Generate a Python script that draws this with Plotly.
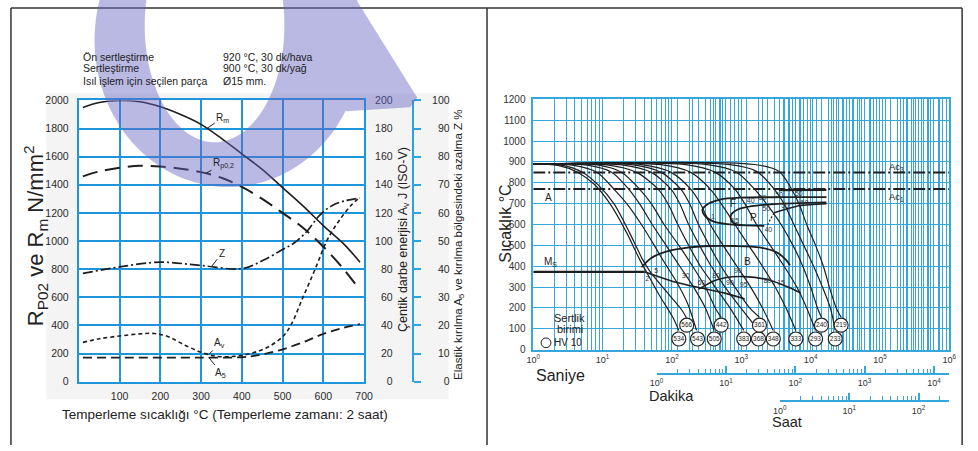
import numpy as np
import plotly.graph_objects as go

W, H = 978, 451


def xp(px):
    return px / W


def yp(py):
    return 1 - py / H


FONT = "Liberation Sans, Arial, sans-serif"
GRID_L = "#1f96dc"
GRID_R = "#36a7dd"
INK = "#1e1e1e"

# ---------------- Left chart data (temper temperature, °C) ----------------
temp_rm = [10, 50, 100, 150, 200, 250, 300, 350, 400, 450, 500, 550, 600, 650, 690]
rm = [1950, 1985, 2000, 1990, 1955, 1900, 1830, 1730, 1620, 1510, 1380, 1250, 1110, 980, 850]

temp_rp = [10, 50, 100, 150, 200, 250, 300, 350, 400, 450, 500, 550, 600, 650, 690]
rp02 = [1460, 1495, 1522, 1535, 1530, 1515, 1490, 1450, 1385, 1300, 1200, 1095, 960, 800, 650]

temp_z = [10, 100, 200, 300, 400, 450, 500, 530, 560, 590, 620, 650, 690]
z_pct = [38.5, 40.8, 42.5, 41.3, 40.2, 43, 47, 49.5, 53.5, 59, 62.5, 64.2, 65.3]

temp_av = [10, 50, 100, 150, 185, 220, 260, 300, 340, 380, 420, 460, 500, 520, 550, 580, 610, 640, 670, 690]
av_j = [28, 30.5, 32.5, 34, 34.3, 32, 26, 21, 18, 18, 20, 24, 32, 40, 60, 80, 101, 115, 126, 131]

temp_a5 = [10, 100, 200, 300, 400, 430, 460, 500, 550, 600, 650, 690]
a5_pct = [8.6, 8.6, 8.6, 8.6, 8.7, 9.2, 10, 11.5, 14, 17, 19.2, 20.5]

# ---------------- Right chart data (CCT diagram) ----------------
# cooling curves: log10(time in s) and temperature °C
cool_logt = [
    [0, 0.355, 0.638, 0.879, 1.106, 1.348, 1.532, 1.631, 1.816, 2.014, 2.099],
    [0, 0.426, 0.709, 0.936, 1.163, 1.390, 1.574, 1.688, 1.915, 2.142, 2.213],
    [0, 0.567, 0.922, 1.163, 1.348, 1.560, 1.745, 1.887, 2.057, 2.227, 2.355],
    [0, 0.780, 1.135, 1.376, 1.532, 1.716, 1.915, 2.113, 2.312, 2.482, 2.610],
    [0, 0.922, 1.277, 1.532, 1.702, 1.887, 2.099, 2.298, 2.482, 2.624, 2.709],
    [0, 1.064, 1.489, 1.801, 1.943, 2.085, 2.241, 2.411, 2.624, 2.837, 3.035],
    [0, 1.277, 1.702, 1.986, 2.113, 2.241, 2.397, 2.567, 2.766, 2.993, 3.248],
    [0, 1.418, 1.844, 2.128, 2.255, 2.383, 2.539, 2.709, 2.908, 3.121, 3.262],
    [0, 1.560, 1.986, 2.270, 2.411, 2.553, 2.738, 2.936, 3.135, 3.305, 3.461],
    [0, 1.844, 2.270, 2.553, 2.709, 2.908, 3.106, 3.305, 3.489, 3.645, 3.787],
    [0, 2.199, 2.624, 2.908, 3.050, 3.220, 3.418, 3.617, 3.801, 3.943, 4.071],
    [0, 2.511, 2.936, 3.191, 3.362, 3.574, 3.745, 3.887, 4.000, 4.099, 4.156],
    [0, 2.837, 3.220, 3.475, 3.617, 3.759, 3.901, 4.043, 4.170, 4.284, 4.355],
    [0, 3.191, 3.546, 3.716, 3.844, 3.943, 4.071, 4.184, 4.270, 4.369, 4.440],
]
cool_temp = [
    [890, 884, 851, 793, 700, 560, 434, 373, 262, 154, 92],
    [890, 884, 851, 790, 700, 560, 434, 373, 280, 190, 150],
    [890, 885, 850, 770, 700, 600, 500, 420, 330, 220, 92],
    [890, 885, 850, 770, 700, 600, 500, 400, 300, 200, 92],
    [890, 886, 850, 770, 700, 600, 500, 400, 300, 200, 155],
    [890, 886, 850, 770, 700, 600, 500, 400, 300, 200, 92],
    [890, 886, 850, 770, 700, 600, 500, 400, 300, 200, 92],
    [890, 887, 850, 770, 700, 600, 500, 400, 300, 200, 155],
    [890, 887, 850, 770, 700, 600, 500, 400, 300, 200, 92],
    [890, 887, 850, 770, 700, 600, 500, 400, 300, 200, 92],
    [890, 887, 850, 770, 700, 600, 500, 400, 300, 200, 92],
    [890, 887, 850, 770, 700, 600, 500, 400, 300, 200, 155],
    [890, 887, 855, 770, 700, 600, 500, 400, 300, 200, 92],
    [890, 888, 854, 775, 690, 600, 500, 400, 300, 200, 155],
]

# hardness circles (HV 10)
hv_low = [534, 543, 505, 383, 368, 348, 333, 293, 233]
hv_low_logt = [2.099, 2.369, 2.610, 3.035, 3.248, 3.461, 3.787, 4.071, 4.355]
hv_low_temp = 51
hv_high = [566, 442, 361, 240, 219]
hv_high_logt = [2.213, 2.709, 3.262, 4.156, 4.440]
hv_high_temp = 117

# transformation lines
ac3_temp = 850
ac1_temp = 770
ms_logt = [0, 1.603]
ms_temp = [373, 373]
bs_logt = [1.560, 1.702, 1.915, 2.199, 2.553, 2.908, 3.262, 3.518, 3.645, 3.702]
bs_temp = [395, 440, 470, 488, 497, 497, 490, 465, 430, 405]
bl_logt = [1.603, 2.014, 2.440, 2.766, 3.050]
bl_temp = [373, 327, 294, 271, 243]
bf_logt = [2.383, 2.482, 2.582, 2.766, 3.050, 3.376, 3.716, 3.858]
bf_temp = [290, 308, 327, 345, 350, 336, 294, 271]
fs_logt = [4.227, 3.617, 2.979, 2.695, 2.525, 2.440, 2.468, 2.596, 2.908, 3.333]
fs_temp = [731, 731, 729, 720, 700, 672, 645, 615, 598, 594]
ps_logt = [4.227, 3.475, 3.149, 2.950, 2.851, 2.865, 3.021]
ps_temp = [706, 698, 688, 672, 645, 612, 596]
pf_logt = [4.227, 3.830, 3.475]
pf_temp = [700, 690, 656]
pdot_logt = [3.475, 3.420, 3.376]
pdot_temp = [656, 625, 596]
a1_logt = [3.543, 4.227]
a1_temp = [765, 766]

small_txt = ["2", "5", "30", "60", "80", "1", "15", "40", "50", "50", "50", "50", "50", "50",
             "40", "90", "95", "90", "80", "15"]
small_logt = [1.645, 1.773, 2.199, 2.426, 2.638, 2.590, 2.908, 3.135, 3.305, 3.546, 3.830,
              3.362, 3.631, 3.915, 3.390, 2.950, 3.035, 2.837, 3.376, 3.574]
small_temp = [336, 374, 350, 317, 350, 635, 616, 714, 728, 738, 747, 672, 686, 700, 574,
              374, 308, 317, 327, 317]

fig = go.Figure()

# ---------------- left traces ----------------
fig.add_trace(go.Scatter(x=temp_rm, y=rm, mode="lines", xaxis="x", yaxis="y",
                         line=dict(color=INK, width=1.6, shape="spline"), hoverinfo="skip"))
fig.add_trace(go.Scatter(x=temp_rp, y=rp02, mode="lines", xaxis="x", yaxis="y",
                         line=dict(color=INK, width=2, dash="15px,8px", shape="spline"), hoverinfo="skip"))
fig.add_trace(go.Scatter(x=temp_z, y=z_pct, mode="lines", xaxis="x", yaxis="y3",
                         line=dict(color=INK, width=1.7, dash="10px,3px,2px,3px", shape="spline"), hoverinfo="skip"))
fig.add_trace(go.Scatter(x=temp_av, y=av_j, mode="lines", xaxis="x", yaxis="y2",
                         line=dict(color=INK, width=1.6, dash="4px,3px", shape="spline"), hoverinfo="skip"))
fig.add_trace(go.Scatter(x=temp_a5, y=a5_pct, mode="lines", xaxis="x", yaxis="y3",
                         line=dict(color=INK, width=1.8, dash="9px,5px", shape="spline"), hoverinfo="skip"))
# invisible anchors so that label-only / free axes get drawn
fig.add_trace(go.Scatter(x=[350], y=[50], mode="markers", xaxis="x", yaxis="y5",
                         marker=dict(opacity=0), hoverinfo="skip"))
fig.add_trace(go.Scatter(x=[10], y=[0.5], mode="markers", xaxis="x3", yaxis="y6",
                         marker=dict(opacity=0), hoverinfo="skip"))
fig.add_trace(go.Scatter(x=[10], y=[0.5], mode="markers", xaxis="x4", yaxis="y6",
                         marker=dict(opacity=0), hoverinfo="skip"))

# ---------------- right traces ----------------
for lt, tt in zip(cool_logt, cool_temp):
    fig.add_trace(go.Scatter(x=[10 ** v for v in lt], y=tt, mode="lines", xaxis="x2", yaxis="y4",
                             line=dict(color=INK, width=1.2, shape="spline", smoothing=0.8), hoverinfo="skip"))

for lt, tt, w, d in [
    (ms_logt, ms_temp, 2.4, "solid"),
    (bs_logt, bs_temp, 1.8, "solid"),
    (bl_logt, bl_temp, 1.6, "solid"),
    (bf_logt, bf_temp, 1.6, "solid"),
    (fs_logt, fs_temp, 1.8, "solid"),
    (ps_logt, ps_temp, 1.8, "solid"),
    (pf_logt, pf_temp, 1.6, "solid"),
    (pdot_logt, pdot_temp, 1.2, "2px,2px"),
    (a1_logt, a1_temp, 2.2, "solid"),
]:
    fig.add_trace(go.Scatter(x=[10 ** v for v in lt], y=tt, mode="lines", xaxis="x2", yaxis="y4",
                             line=dict(color=INK, width=w, dash=d, shape="spline", smoothing=0.8),
                             hoverinfo="skip"))

for tval in (ac3_temp, ac1_temp):
    fig.add_trace(go.Scatter(x=[1, 1e6], y=[tval, tval], mode="lines", xaxis="x2", yaxis="y4",
                             line=dict(color=INK, width=2, dash="12px,3px,2px,3px"), hoverinfo="skip"))

for vals, lts, tv in [(hv_low, hv_low_logt, hv_low_temp), (hv_high, hv_high_logt, hv_high_temp)]:
    fig.add_trace(go.Scatter(x=[10 ** v for v in lts], y=[tv] * len(vals), mode="markers+text",
                             xaxis="x2", yaxis="y4", text=[str(v) for v in vals],
                             textposition="middle center",
                             textfont=dict(family=FONT, size=6.5, color="#222"),
                             marker=dict(symbol="circle", size=14, color="white",
                                         line=dict(color="#222", width=1.2)),
                             hoverinfo="skip"))

fig.add_trace(go.Scatter(x=[10 ** v for v in small_logt], y=small_temp, mode="text",
                         xaxis="x2", yaxis="y4", text=small_txt,
                         textfont=dict(family=FONT, size=7, color="#333"), hoverinfo="skip"))

# ---------------- axes ----------------
tickfont = dict(family=FONT, size=10.5, color="#2a2a2a")
lx0, lx1, ly0, ly1 = 73, 363, 97, 386
rx0, rx1, ry0, ry1 = 535, 958, 96, 353

sec_minor = sorted(set(
    [k * 10 ** m for m in range(0, 6) for k in range(2, 10)]
    + [60 * k * 10 ** m for m in range(0, 5) for k in range(1, 10) if 60 * k * 10 ** m <= 1e6]
    + [3600 * k * 10 ** m for m in range(0, 3) for k in range(1, 10) if 3600 * k * 10 ** m <= 1e6]
))
min_minor = [k * 10 ** m for m in range(0, 5) for k in range(2, 10) if k * 10 ** m <= 1e6 / 60]
hr_minor = [k * 10 ** m for m in range(0, 3) for k in range(2, 10) if k * 10 ** m <= 1e6 / 3600]


def pw(n):
    return f"10<sup>{n}</sup>"


fig.update_layout(
    width=W, height=H, margin=dict(l=0, r=0, t=0, b=0),
    paper_bgcolor="white", plot_bgcolor="rgba(0,0,0,0)", showlegend=False,
    font=dict(family=FONT, color="#222"),
    xaxis=dict(domain=[xp(lx0), xp(lx1)], range=[0, 700], anchor="y",
               tickvals=list(range(100, 701, 100)), showgrid=True, gridcolor=GRID_L, gridwidth=2,
               showline=True, mirror=True, linecolor=GRID_L, linewidth=2, zeroline=False,
               ticks="", tickfont=tickfont, ticklabelstandoff=4),
    yaxis=dict(domain=[yp(ly1), yp(ly0)], range=[0, 2000], dtick=200, anchor="x",
               showgrid=True, gridcolor=GRID_L, gridwidth=2, showline=True, mirror=True,
               linecolor=GRID_L, linewidth=2, zeroline=False, ticks="", tickfont=tickfont,
               ticklabelstandoff=6),
    yaxis2=dict(overlaying="y", anchor="free", position=xp(392), side="left", range=[0, 200],
                dtick=20, showgrid=False, showline=False, zeroline=False, ticks="",
                tickfont=tickfont, ticklabelstandoff=0),
    yaxis3=dict(overlaying="y", anchor="free", position=xp(413), side="right", range=[0, 100],
                dtick=10, showgrid=False, showline=True, linecolor="#2aa3de", linewidth=2,
                zeroline=False, ticks="outside", ticklen=7, tickwidth=2, tickcolor="#2aa3de",
                showticklabels=False),
    yaxis5=dict(overlaying="y", anchor="free", position=xp(450), side="left", range=[0, 100],
                dtick=10, showgrid=False, showline=False, zeroline=False, ticks="",
                tickfont=tickfont, ticklabelstandoff=0),
    yaxis6=dict(domain=[0, 0.05], range=[0, 1], visible=False, anchor="free", position=0),
    xaxis2=dict(domain=[xp(rx0), xp(rx1)], type="log", range=[0, 6], anchor="y4",
                tickvals=[10 ** n for n in range(7)], ticktext=[pw(n) for n in range(7)],
                showgrid=True, gridcolor=GRID_R, gridwidth=1.2,
                minor=dict(tickvals=sec_minor, showgrid=True, gridcolor=GRID_R, gridwidth=1.2, ticks=""),
                showline=True, mirror=True, linecolor=GRID_R, linewidth=1.5, zeroline=False,
                ticks="", tickfont=dict(family=FONT, size=9, color="#333"), ticklabelstandoff=1),
    yaxis4=dict(domain=[yp(ry1), yp(ry0)], range=[0, 1200], dtick=100, anchor="x2",
                showgrid=True, gridcolor=GRID_R, gridwidth=1.2, showline=True, mirror=True,
                linecolor=GRID_R, linewidth=1.5, zeroline=False, ticks="",
                tickfont=dict(family=FONT, size=10, color="#333"), ticklabelstandoff=4),
    xaxis3=dict(domain=[xp(rx0 + 70.5 * np.log10(60)), xp(rx1)], type="log",
                range=[0, np.log10(1e6 / 60)], anchor="free", position=yp(378),
                tickvals=[10 ** n for n in range(5)], ticktext=[pw(n) for n in range(5)],
                showgrid=False, showline=True, linecolor=GRID_R, linewidth=1.5, zeroline=False,
                ticks="inside", ticklen=7, tickwidth=1.5, tickcolor=GRID_R,
                minor=dict(tickvals=min_minor, ticks="inside", ticklen=4, tickwidth=1.2,
                           tickcolor=GRID_R, showgrid=False),
                tickfont=dict(family=FONT, size=9, color="#333"), ticklabelstandoff=1),
    xaxis4=dict(domain=[xp(rx0 + 70.5 * np.log10(3600)), xp(rx1)], type="log",
                range=[0, np.log10(1e6 / 3600)], anchor="free", position=yp(406),
                tickvals=[1, 10, 100], ticktext=[pw(n) for n in range(3)],
                showgrid=False, showline=True, linecolor=GRID_R, linewidth=1.5, zeroline=False,
                ticks="inside", ticklen=7, tickwidth=1.5, tickcolor=GRID_R,
                minor=dict(tickvals=hr_minor, ticks="inside", ticklen=4, tickwidth=1.2,
                           tickcolor=GRID_R, showgrid=False),
                tickfont=dict(family=FONT, size=9, color="#333"), ticklabelstandoff=1),
)

# ---------------- annotations ----------------
ann = []


def txt(x, y, s, size=10.5, xanchor="left", angle=0, color="#222", yanchor="middle"):
    ann.append(dict(x=xp(x), y=yp(y), xref="paper", yref="paper", text=s, showarrow=False,
                    xanchor=xanchor, yanchor=yanchor, textangle=angle,
                    font=dict(family=FONT, size=size, color=color)))


txt(75, 52, "Ön sertleştirme", 10.5)
txt(75, 64, "Sertleştirme", 10.5)
txt(75, 77, "Isıl işlem için seçilen parça", 10.5)
txt(218, 52, "920 °C, 30 dk/hava", 10.5)
txt(218, 64, "900 °C, 30 dk/yağ", 10.5)
txt(218, 77, "Ø15 mm.", 10.5)
txt(222, 420, "Temperleme sıcaklığı °C (Temperleme zamanı: 2 saat)", 13.5, "center")
txt(29, 236, "R<sub>P02</sub> ve R<sub>m</sub> N/mm<sup>2</sup>", 22, "center", -90)
txt(403, 240, "Çentik darbe enerjisi A<sub>v</sub> J (ISO-V)", 12.5, "center", -90)
txt(460, 245, "Elastik kırılma A<sub>5</sub> ve kırılma bölgesindeki azalma Z %", 11.5, "center", -90)

txt(506, 224, "Sıcaklık °C", 16, "center", -90)
txt(536, 380, "Saniye", 16)
txt(651, 401, "Dakika", 14.5)
txt(776, 427, "Saat", 14.5)
txt(572, 321, "Sertlik", 11, "center")
txt(572, 332, "birimi", 11, "center")
txt(554, 346, "HV 10", 10)

# CCT region letters (data coords)
for s, lt, tv, sz in [("A", 0.142, 728, 10), ("F", 2.809, 700, 10), ("P", 3.092, 635, 10),
                      ("B", 3.007, 425, 10), ("M<sub>S</sub>", 0.13, 420, 10),
                      ("Ac<sub>3</sub>", 5.10, 878, 9.5), ("Ac<sub>1</sub>", 5.10, 733, 9.5)]:
    ann.append(dict(x=lt, y=tv, xref="x2", yref="y4", text=s, showarrow=False, xanchor="left",
                    font=dict(family=FONT, size=sz, color="#222")))

# curve labels with leader lines (left chart)
for s, xv, yv, yr, axp, ayp in [("R<sub>m</sub>", 314, 1800, "y", 16, -11),
                                ("R<sub>p0,2</sub>", 311, 1480, "y", 18, -10),
                                ("Z", 326, 41, "y3", 10, -13),
                                ("A<sub>v</sub>", 319, 19.4, "y2", 11, -11),
                                ("A<sub>5</sub>", 319, 8.6, "y3", 12, 15)]:
    ann.append(dict(x=xv, y=yv, xref="x", yref=yr, text=s, showarrow=True, arrowhead=0,
                    arrowwidth=1, arrowcolor="#222", ax=axp, ay=ayp,
                    font=dict(family=FONT, size=10, color="#222")))

fig.update_layout(annotations=ann)

# ---------------- shapes: page frame, backdrop, watermark ----------------
shapes = []
shapes.append(dict(type="rect", xref="paper", yref="paper", x0=xp(40), x1=xp(449), y0=yp(404), y1=yp(90),
                   fillcolor="#f4f4f4", line=dict(width=0), layer="below"))
shapes.append(dict(type="rect", xref="paper", yref="paper", x0=xp(lx0), x1=xp(lx1), y0=yp(ly1), y1=yp(ly0),
                   fillcolor="white", line=dict(width=0), layer="below"))
for x0, y0, x1, y1 in [(4, 2, 971, 2), (4, 2, 4, 451), (488, 2, 488, 451), (971, 2, 971, 451)]:
    shapes.append(dict(type="line", xref="paper", yref="paper", x0=xp(x0), y0=yp(y0), x1=xp(x1), y1=yp(y1),
                       line=dict(color="#333", width=1.5)))
# legend circle for HV 10
shapes.append(dict(type="circle", xref="paper", yref="paper", x0=xp(543), x1=xp(553), y0=yp(351), y1=yp(341),
                   line=dict(color="#222", width=1)))


def ellipse(cx, cy, a, b, n, rev=False):
    t = np.linspace(0, 2 * np.pi, n, endpoint=False)
    if rev:
        t = t[::-1]
    return [(cx + a * np.cos(v), cy + b * np.sin(v)) for v in t]


def sub(pts):
    return "M " + " L ".join(f"{xp(x):.5f},{yp(y):.5f}" for x, y in pts) + " Z"


outer = ellipse(225, 35, 136, 151, 140)
inner = ellipse(211, 20, 71, 120, 140, rev=True)
tail = [(330, -5), (356, -5), (417, 94), (410, 104), (345, 108), (318, 60)]
wm_path = sub(outer) + " " + sub(inner) + " " + sub(tail)
shapes.append(dict(type="path", path=wm_path, xref="paper", yref="paper",
                   fillcolor="rgba(100,100,195,0.45)", line=dict(width=0), layer="above",
                   fillrule="nonzero"))

fig.update_layout(shapes=shapes)

fig.write_html("out.html", config={"displayModeBar": False},
               post_script="document.body.style.margin='0';")
